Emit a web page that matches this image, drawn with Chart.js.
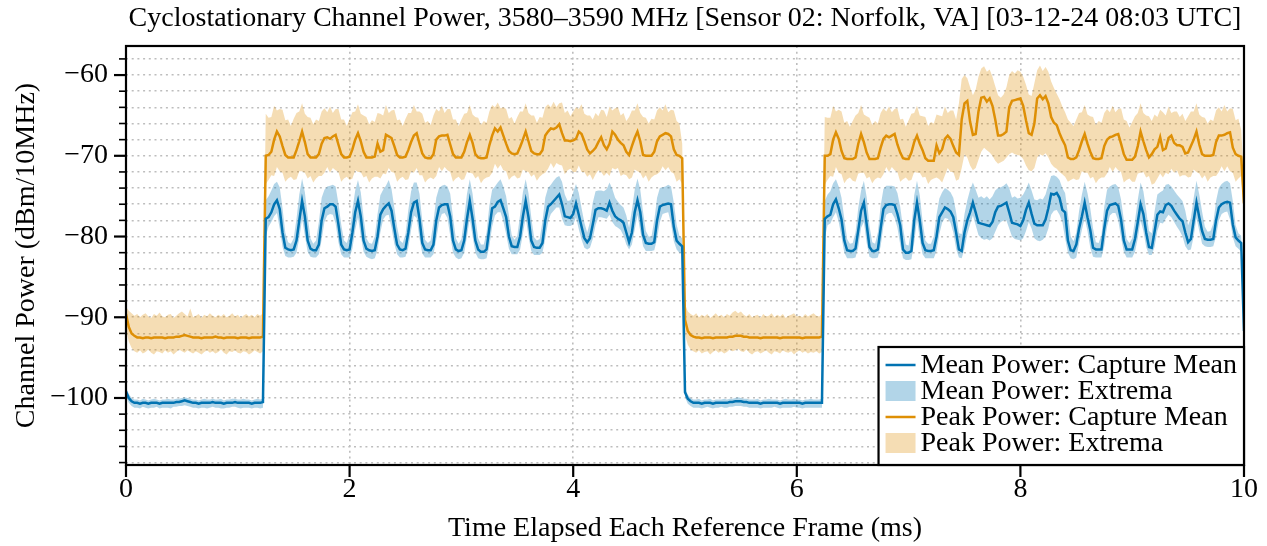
<!DOCTYPE html>
<html lang="en">
<head>
<meta charset="UTF-8">
<title>Cyclostationary Channel Power</title>
<script src="https://cdn.jsdelivr.net/npm/chart.js@4.4.1/dist/chart.umd.min.js"></script>
<style>
  html, body { margin: 0; padding: 0; background: #fff; }
  #wrap { width: 1267px; height: 546px; }
</style>
</head>
<body>
<div id="wrap"><canvas id="powerChart" width="1267" height="546"></canvas></div>
<script>
// samples are 25 us apart, frame of 10 ms -> 401 points per series
const sampleStepMs = 0.025;

const meanPowerMean = [
  -99.2, -100.0, -100.4, -100.6, -100.6, -100.7, -100.6, -100.6, -100.7, -100.6,
  -100.6, -100.6, -100.7, -100.6, -100.6, -100.6, -100.6, -100.6, -100.5, -100.5,
  -100.4, -100.3, -100.4, -100.5, -100.6, -100.6, -100.7, -100.6, -100.6, -100.6,
  -100.6, -100.5, -100.6, -100.6, -100.6, -100.7, -100.6, -100.6, -100.6, -100.5,
  -100.6, -100.6, -100.6, -100.6, -100.6, -100.7, -100.6, -100.6, -100.6, -100.5,
  -77.8, -77.6, -77.0, -76.0, -75.5, -76.6, -79.5, -81.4, -81.6, -81.7,
  -81.6, -80.5, -78.0, -75.6, -77.5, -80.5, -81.5, -81.7, -81.7, -81.0,
  -78.0, -76.5, -76.3, -76.0, -76.0, -76.3, -78.5, -81.0, -81.6, -81.7,
  -81.6, -79.5, -77.0, -75.6, -77.5, -80.5, -81.5, -81.7, -81.8, -81.7,
  -80.0, -77.3, -76.6, -76.2, -75.9, -76.8, -79.0, -81.0, -81.6, -81.7,
  -81.5, -79.5, -77.0, -75.8, -75.6, -77.8, -80.8, -81.6, -81.7, -81.7,
  -81.0, -78.0, -76.4, -76.1, -76.0, -76.0, -77.5, -80.5, -81.6, -81.8,
  -81.7, -80.5, -77.8, -75.6, -77.8, -80.5, -81.6, -81.9, -81.9, -81.6,
  -79.0, -76.5, -76.3, -75.7, -75.5, -76.5, -77.6, -80.0, -81.2, -81.3,
  -81.3, -80.0, -77.5, -75.6, -77.6, -80.5, -81.3, -81.4, -81.4, -80.8,
  -78.0, -76.3, -76.0, -75.6, -75.2, -74.8, -76.0, -77.5, -77.6, -77.7,
  -77.2, -75.9, -77.3, -78.8, -80.2, -80.7, -80.2, -78.5, -76.7, -76.5,
  -76.5, -76.6, -76.8, -75.8, -76.8, -77.5, -77.8, -78.0, -78.3, -79.5,
  -80.7, -79.5, -77.0, -75.5, -77.0, -79.8, -80.8, -80.9, -80.9, -80.7,
  -78.0, -76.3, -76.1, -76.0, -75.9, -76.0, -78.8, -80.5, -80.9, -81.2,
  -99.3, -100.1, -100.4, -100.6, -100.6, -100.6, -100.7, -100.6, -100.6, -100.6,
  -100.7, -100.6, -100.6, -100.6, -100.6, -100.6, -100.5, -100.5, -100.4, -100.4,
  -100.4, -100.5, -100.5, -100.6, -100.6, -100.6, -100.6, -100.7, -100.6, -100.6,
  -100.6, -100.6, -100.6, -100.6, -100.7, -100.6, -100.6, -100.6, -100.6, -100.6,
  -100.6, -100.6, -100.7, -100.6, -100.6, -100.6, -100.6, -100.6, -100.6, -100.6,
  -77.8, -77.5, -77.3, -76.0, -75.4, -76.5, -77.9, -80.5, -81.7, -81.8,
  -81.8, -81.5, -79.2, -76.8, -75.8, -78.5, -81.3, -81.8, -81.8, -81.6,
  -79.0, -76.6, -76.1, -76.0, -76.0, -76.1, -77.2, -78.6, -81.6, -82.0,
  -82.0, -81.8, -78.0, -75.8, -78.0, -80.8, -81.7, -81.8, -81.8, -81.7,
  -80.0, -77.6, -77.0, -76.4, -76.6, -76.9, -77.6, -79.5, -81.6, -81.8,
  -79.5, -78.0, -77.0, -75.8, -77.0, -78.3, -78.4, -78.5, -78.6, -78.7,
  -78.2, -77.0, -76.3, -76.2, -76.0, -75.8, -77.0, -78.3, -78.4, -78.5,
  -78.7, -78.0, -76.7, -75.8, -77.2, -78.4, -78.6, -78.6, -78.6, -77.9,
  -76.5, -74.7, -74.8, -74.6, -75.2, -76.7, -77.0, -80.5, -81.7, -81.8,
  -81.0, -79.0, -77.5, -75.8, -77.6, -79.2, -81.4, -81.6, -81.6, -81.6,
  -79.0, -76.8, -76.1, -76.0, -75.9, -76.2, -77.9, -80.5, -81.6, -81.6,
  -81.6, -80.3, -78.2, -76.0, -77.2, -79.5, -81.3, -81.4, -79.4, -77.3,
  -76.9, -77.0, -76.1, -75.9, -76.2, -76.8, -77.3, -77.8, -78.1, -79.5,
  -80.7, -80.3, -78.0, -75.8, -77.6, -79.3, -80.3, -80.4, -80.4, -80.3,
  -78.0, -76.4, -76.0, -75.8, -75.7, -75.8, -78.5, -80.1, -80.5, -80.8,
  -91.7
];

const meanPowerMax = [
  -98.7, -99.5, -100.0, -100.2, -100.2, -100.3, -100.1, -100.2, -100.3, -100.2,
  -100.1, -100.2, -100.3, -100.2, -100.2, -100.1, -100.2, -100.2, -100.1, -100.1,
  -100.0, -99.9, -100.0, -100.1, -100.2, -100.2, -100.3, -100.2, -100.1, -100.2,
  -100.2, -100.1, -100.2, -100.2, -100.1, -100.3, -100.2, -100.2, -100.1, -100.1,
  -100.2, -100.2, -100.1, -100.2, -100.2, -100.3, -100.2, -100.1, -100.2, -100.1,
  -75.5, -75.0, -74.3, -73.5, -73.2, -73.9, -76.5, -79.5, -80.7, -80.9,
  -80.2, -77.8, -74.8, -72.8, -74.5, -77.5, -80.2, -80.9, -80.5, -78.2,
  -75.2, -74.2, -73.8, -73.7, -73.6, -73.8, -75.9, -78.5, -80.5, -80.8,
  -79.7, -76.7, -74.3, -73.0, -74.5, -77.6, -80.2, -80.8, -80.9, -80.0,
  -77.2, -74.9, -74.2, -73.7, -73.0, -74.1, -76.4, -78.8, -80.5, -80.8,
  -79.7, -76.7, -74.4, -73.3, -73.3, -74.7, -78.0, -80.4, -80.8, -80.5,
  -78.2, -75.2, -74.0, -73.7, -73.6, -73.8, -74.7, -77.6, -80.2, -80.9,
  -80.3, -77.7, -74.7, -72.9, -74.7, -77.7, -80.2, -81.0, -81.0, -79.5,
  -76.2, -74.2, -73.8, -73.3, -72.9, -73.8, -75.0, -77.4, -79.8, -80.4,
  -79.9, -77.3, -74.5, -72.9, -74.6, -77.6, -80.1, -80.5, -80.3, -78.1,
  -75.2, -74.0, -73.6, -73.1, -72.7, -72.5, -73.2, -74.8, -75.6, -75.5,
  -74.5, -73.5, -74.6, -76.5, -78.3, -79.5, -78.2, -75.8, -74.4, -74.3,
  -74.3, -74.4, -74.1, -73.3, -74.1, -75.2, -75.7, -76.1, -76.4, -77.4,
  -78.9, -76.7, -74.2, -72.8, -74.2, -77.0, -79.3, -80.0, -80.0, -78.0,
  -75.2, -74.0, -73.9, -73.8, -73.6, -73.8, -75.8, -78.5, -79.9, -80.2,
  -98.8, -99.6, -100.0, -100.2, -100.2, -100.1, -100.3, -100.2, -100.2, -100.1,
  -100.3, -100.2, -100.2, -100.2, -100.1, -100.2, -100.1, -100.1, -100.0, -99.9,
  -100.0, -100.1, -100.1, -100.2, -100.2, -100.2, -100.1, -100.3, -100.2, -100.2,
  -100.1, -100.2, -100.2, -100.2, -100.3, -100.2, -100.1, -100.2, -100.2, -100.1,
  -100.2, -100.2, -100.3, -100.2, -100.2, -100.1, -100.2, -100.2, -100.2, -100.1,
  -75.6, -74.8, -74.4, -73.4, -72.9, -73.8, -75.2, -77.8, -80.3, -80.9,
  -80.8, -79.5, -76.4, -74.3, -73.1, -75.1, -78.7, -80.7, -80.9, -79.5,
  -76.2, -74.1, -73.7, -73.7, -73.7, -73.8, -74.6, -76.3, -78.9, -81.0,
  -81.1, -79.0, -74.9, -73.1, -74.9, -78.1, -80.5, -80.9, -80.9, -80.0,
  -77.3, -75.3, -74.5, -74.0, -74.2, -74.5, -75.2, -77.0, -79.6, -79.7,
  -77.2, -75.5, -74.2, -73.3, -74.2, -75.2, -75.0, -75.3, -75.0, -75.4,
  -75.0, -74.3, -74.0, -73.9, -73.7, -73.4, -74.0, -75.2, -75.0, -75.3,
  -75.2, -74.8, -74.1, -73.3, -74.3, -75.4, -75.5, -75.3, -75.4, -74.8,
  -73.6, -72.5, -72.4, -72.6, -73.0, -74.0, -74.6, -77.2, -80.0, -80.6,
  -79.5, -76.8, -74.8, -73.2, -74.6, -76.5, -79.0, -80.7, -80.8, -79.8,
  -76.3, -74.2, -73.8, -73.6, -73.5, -73.9, -75.4, -77.9, -80.3, -80.8,
  -80.2, -78.0, -75.4, -73.3, -74.4, -76.7, -79.3, -79.6, -76.9, -74.8,
  -74.5, -74.3, -73.6, -73.5, -73.8, -74.3, -74.8, -75.2, -75.6, -76.8,
  -78.6, -77.7, -75.2, -73.1, -74.8, -76.9, -78.8, -79.4, -79.3, -78.4,
  -75.6, -74.0, -73.5, -73.2, -73.1, -73.4, -75.6, -78.6, -79.6, -79.9,
  -90.0
];

const meanPowerMin = [
  -99.8, -100.6, -101.0, -101.2, -101.2, -101.3, -101.1, -101.2, -101.3, -101.2,
  -101.2, -101.1, -101.3, -101.2, -101.2, -101.2, -101.3, -101.1, -101.1, -101.0,
  -101.0, -100.9, -101.0, -101.1, -101.2, -101.2, -101.3, -101.2, -101.2, -101.3,
  -101.2, -101.1, -101.2, -101.2, -101.3, -101.3, -101.2, -101.2, -101.1, -101.1,
  -101.2, -101.3, -101.2, -101.2, -101.2, -101.3, -101.2, -101.2, -101.3, -101.2,
  -80.0, -78.8, -78.2, -77.5, -77.1, -79.0, -81.3, -82.4, -82.6, -82.6,
  -82.5, -82.0, -80.2, -77.8, -79.9, -81.9, -82.5, -82.6, -82.6, -82.2,
  -80.4, -78.2, -77.4, -77.2, -77.3, -78.4, -80.7, -82.2, -82.6, -82.6,
  -82.6, -81.5, -79.2, -77.6, -79.9, -81.9, -82.5, -82.7, -82.8, -82.7,
  -81.7, -79.5, -77.9, -77.4, -77.3, -78.9, -80.9, -82.2, -82.6, -82.6,
  -82.5, -81.4, -79.2, -77.4, -77.7, -80.2, -82.1, -82.6, -82.6, -82.6,
  -82.2, -80.4, -78.2, -77.2, -77.1, -77.7, -79.9, -82.0, -82.6, -82.8,
  -82.7, -82.0, -80.0, -77.7, -80.0, -82.0, -82.7, -82.8, -82.8, -82.7,
  -81.2, -78.8, -77.4, -77.0, -77.0, -78.1, -79.7, -81.5, -82.2, -82.2,
  -82.2, -81.6, -79.7, -77.6, -80.0, -81.8, -82.3, -82.3, -82.3, -82.0,
  -80.3, -78.2, -77.2, -76.8, -76.4, -76.4, -77.8, -78.6, -78.7, -78.7,
  -78.5, -77.6, -79.1, -80.4, -81.4, -81.6, -81.4, -80.3, -78.6, -77.6,
  -77.6, -77.7, -77.8, -77.3, -78.2, -78.7, -78.9, -79.2, -79.9, -81.0,
  -81.6, -81.0, -79.2, -77.3, -79.3, -81.2, -81.8, -81.8, -81.8, -81.7,
  -80.3, -78.2, -77.2, -77.1, -77.0, -78.4, -80.6, -81.6, -82.0, -82.1,
  -99.9, -100.7, -101.0, -101.2, -101.2, -101.2, -101.3, -101.2, -101.1, -101.2,
  -101.3, -101.2, -101.2, -101.1, -101.2, -101.2, -101.1, -101.1, -101.0, -101.0,
  -101.0, -101.1, -101.1, -101.2, -101.2, -101.2, -101.2, -101.3, -101.2, -101.2,
  -101.2, -101.2, -101.1, -101.2, -101.3, -101.2, -101.2, -101.2, -101.2, -101.1,
  -101.2, -101.2, -101.3, -101.2, -101.2, -101.2, -101.2, -101.2, -101.2, -101.2,
  -80.2, -78.6, -78.4, -77.6, -77.0, -78.2, -80.1, -82.0, -82.7, -82.7,
  -82.7, -82.6, -81.3, -78.9, -78.2, -80.8, -82.5, -82.7, -82.7, -82.6,
  -81.2, -78.7, -77.3, -77.1, -77.1, -77.7, -78.9, -81.0, -82.7, -82.9,
  -82.9, -82.8, -80.8, -77.9, -80.3, -82.2, -82.7, -82.7, -82.7, -82.7,
  -81.8, -79.7, -78.3, -77.7, -77.8, -78.3, -79.5, -81.5, -82.6, -82.7,
  -81.5, -79.7, -78.5, -77.4, -78.6, -79.8, -80.2, -80.4, -80.3, -80.5,
  -80.2, -79.4, -78.6, -78.2, -78.0, -78.0, -79.0, -80.0, -80.3, -80.4,
  -80.5, -80.2, -79.3, -78.2, -79.0, -80.2, -80.5, -80.6, -80.4, -80.0,
  -79.0, -77.3, -76.8, -76.7, -77.3, -78.2, -80.2, -82.0, -82.7, -82.8,
  -82.6, -80.8, -79.2, -77.7, -79.3, -81.4, -82.5, -82.6, -82.6, -82.6,
  -81.2, -78.8, -77.4, -77.1, -77.1, -78.0, -80.1, -81.9, -82.6, -82.6,
  -82.6, -81.9, -80.2, -78.0, -79.3, -81.3, -82.3, -82.3, -81.3, -79.3,
  -78.3, -78.4, -77.8, -77.3, -77.6, -78.2, -78.8, -79.3, -80.0, -81.2,
  -81.7, -81.6, -80.0, -77.7, -79.3, -80.9, -81.2, -81.3, -81.3, -81.2,
  -80.0, -78.0, -77.2, -77.0, -76.9, -77.9, -80.1, -81.2, -81.5, -81.9,
  -92.5
];

const peakPowerMean = [
  -89.6, -91.2, -92.0, -92.3, -92.5, -92.5, -92.6, -92.5, -92.5, -92.6,
  -92.5, -92.5, -92.5, -92.5, -92.6, -92.5, -92.5, -92.5, -92.4, -92.4,
  -92.3, -92.2, -92.3, -92.4, -92.5, -92.5, -92.5, -92.6, -92.5, -92.5,
  -92.5, -92.5, -92.4, -92.5, -92.5, -92.6, -92.5, -92.5, -92.5, -92.5,
  -92.6, -92.5, -92.5, -92.5, -92.6, -92.5, -92.5, -92.5, -92.5, -92.4,
  -70.0, -69.9, -69.5, -68.0, -67.0, -67.6, -68.8, -69.9, -70.2, -70.2,
  -70.2, -69.3, -68.2, -67.0, -68.3, -69.8, -70.2, -70.2, -70.2, -69.8,
  -68.5, -67.8, -67.7, -67.9, -67.6, -67.4, -68.6, -69.8, -70.2, -70.2,
  -70.1, -69.2, -68.0, -67.2, -68.2, -69.5, -70.2, -70.2, -70.2, -70.1,
  -68.5, -69.5, -69.3, -67.4, -67.6, -67.8, -68.8, -69.9, -70.2, -70.2,
  -70.1, -69.3, -68.3, -67.5, -67.2, -68.5, -69.7, -70.2, -70.3, -70.3,
  -69.8, -68.0, -67.6, -67.5, -67.5, -67.4, -68.6, -69.8, -70.2, -70.2,
  -70.2, -69.5, -68.3, -67.4, -68.4, -69.8, -70.2, -70.3, -70.3, -70.2,
  -68.7, -67.5, -66.6, -67.0, -66.5, -67.5, -68.5, -69.4, -69.7, -69.8,
  -69.7, -68.9, -68.0, -67.0, -68.2, -69.4, -69.7, -69.8, -69.8, -69.3,
  -67.5, -67.0, -66.6, -66.7, -66.5, -66.1, -67.2, -68.1, -68.1, -68.2,
  -68.1, -67.9, -67.0, -67.3, -68.2, -69.2, -69.7, -69.4, -69.0, -68.3,
  -67.7, -68.7, -69.2, -68.5, -67.0, -67.4, -68.0, -68.4, -68.7, -69.5,
  -69.9, -68.8, -67.8, -67.0, -68.2, -69.9, -70.0, -70.0, -70.0, -69.5,
  -68.2, -67.6, -67.4, -67.2, -67.3, -67.6, -69.2, -69.9, -70.0, -70.3,
  -90.3, -91.7, -92.2, -92.4, -92.5, -92.5, -92.6, -92.5, -92.5, -92.5,
  -92.6, -92.5, -92.5, -92.5, -92.5, -92.5, -92.4, -92.4, -92.3, -92.3,
  -92.3, -92.4, -92.4, -92.5, -92.5, -92.5, -92.5, -92.6, -92.5, -92.5,
  -92.5, -92.5, -92.5, -92.5, -92.6, -92.5, -92.5, -92.5, -92.5, -92.5,
  -92.5, -92.5, -92.6, -92.5, -92.5, -92.5, -92.5, -92.5, -92.5, -92.4,
  -70.0, -70.0, -69.8, -68.0, -67.1, -67.9, -69.4, -70.3, -70.4, -70.4,
  -70.4, -70.2, -68.5, -67.3, -68.3, -69.6, -70.4, -70.4, -70.4, -70.3,
  -69.0, -67.9, -67.5, -67.7, -67.5, -67.3, -68.6, -69.6, -70.3, -70.4,
  -70.4, -69.6, -68.3, -67.5, -68.5, -69.3, -70.3, -70.6, -70.6, -70.6,
  -68.7, -69.7, -69.2, -67.9, -67.5, -67.9, -68.8, -69.6, -69.9, -65.5,
  -63.5, -63.2, -65.8, -67.4, -67.3, -64.5, -62.8, -62.7, -63.3, -62.9,
  -63.8, -65.5, -67.5, -67.5, -67.3, -67.0, -64.0, -63.2, -63.1, -63.0,
  -62.9, -63.8, -65.6, -67.2, -67.4, -66.0, -62.9, -62.5, -63.0, -62.6,
  -63.5, -65.2, -65.9, -66.2, -67.2, -68.0, -68.7, -70.2, -70.4, -70.4,
  -70.2, -69.3, -68.2, -67.3, -68.5, -69.5, -70.3, -70.4, -70.4, -70.3,
  -68.8, -68.0, -67.7, -67.6, -67.4, -67.3, -68.5, -69.8, -70.5, -70.5,
  -70.5, -70.1, -68.8, -67.0, -68.2, -69.3, -70.2, -69.8, -69.2, -68.9,
  -67.7, -69.3, -69.1, -67.8, -67.5, -68.4, -68.7, -68.7, -68.9, -69.7,
  -69.6, -68.8, -68.0, -67.0, -68.6, -69.8, -70.0, -70.0, -70.0, -69.9,
  -68.3, -67.5, -67.5, -67.4, -67.2, -67.1, -69.0, -69.8, -70.0, -70.1,
  -75.9
];

const peakPowerMax = [
  -88.7, -89.2, -89.5, -89.8, -89.6, -90.0, -89.7, -89.5, -89.9, -90.1,
  -89.6, -89.8, -89.4, -89.9, -90.0, -89.7, -89.6, -90.1, -89.8, -89.5,
  -89.3, -89.6, -89.9, -88.9, -90.0, -89.8, -89.6, -90.1, -89.7, -89.9,
  -89.5, -89.8, -90.0, -89.7, -89.9, -89.6, -90.0, -89.8, -89.5, -89.9,
  -89.7, -90.1, -89.8, -89.6, -89.9, -89.7, -90.0, -89.6, -89.8, -89.5,
  -64.8, -65.3, -65.2, -63.8, -64.4, -64.2, -64.3, -65.6, -65.5, -66.3,
  -65.4, -64.7, -64.5, -63.5, -64.8, -65.2, -65.3, -66.1, -65.5, -65.7,
  -64.5, -64.1, -64.6, -63.9, -64.7, -64.2, -64.2, -65.5, -65.5, -66.3,
  -65.4, -64.6, -64.5, -63.6, -64.8, -65.0, -65.2, -66.1, -65.6, -65.8,
  -64.7, -64.8, -65.0, -63.7, -64.7, -64.4, -64.3, -65.6, -65.5, -66.3,
  -65.4, -64.7, -64.7, -63.7, -64.5, -64.5, -64.8, -65.9, -65.7, -66.2,
  -65.0, -64.2, -64.5, -63.8, -64.7, -64.2, -64.2, -65.5, -65.5, -66.3,
  -65.5, -64.8, -64.7, -63.7, -64.9, -65.2, -65.3, -66.2, -65.7, -65.9,
  -64.5, -63.7, -64.0, -63.4, -64.1, -64.0, -64.2, -65.4, -65.2, -66.0,
  -65.2, -64.5, -64.5, -63.5, -64.7, -65.0, -65.0, -65.9, -65.2, -65.3,
  -64.0, -63.6, -64.0, -63.3, -64.0, -63.5, -63.4, -64.7, -64.4, -65.1,
  -64.5, -64.0, -64.2, -63.6, -64.8, -65.0, -65.0, -65.5, -64.7, -65.1,
  -64.3, -64.4, -65.2, -63.9, -64.4, -64.1, -64.0, -65.0, -64.7, -65.7,
  -65.2, -64.4, -64.4, -63.5, -64.7, -65.2, -65.3, -66.0, -65.4, -65.5,
  -64.4, -64.0, -64.4, -63.6, -64.6, -64.3, -64.4, -65.7, -66.0, -68.5,
  -88.4, -89.3, -89.6, -89.8, -89.5, -90.0, -89.7, -89.9, -89.6, -90.1,
  -89.8, -89.5, -89.9, -89.7, -90.0, -89.6, -89.8, -89.4, -89.2, -89.5,
  -89.3, -89.7, -89.9, -89.6, -90.0, -89.8, -89.7, -90.1, -89.6, -89.9,
  -89.8, -89.5, -90.0, -89.7, -89.9, -89.6, -90.1, -89.8, -89.7, -89.5,
  -89.9, -89.8, -90.0, -89.6, -89.9, -89.7, -89.5, -89.8, -89.9, -89.6,
  -65.2, -65.3, -65.3, -63.8, -64.5, -64.3, -64.5, -65.9, -65.7, -66.4,
  -65.7, -65.0, -64.7, -63.7, -64.9, -65.1, -65.3, -66.2, -65.7, -66.0,
  -64.7, -64.1, -64.5, -63.9, -64.6, -64.2, -64.1, -65.5, -65.4, -66.4,
  -65.6, -64.8, -64.7, -63.8, -65.0, -65.1, -65.2, -66.3, -65.8, -66.0,
  -64.9, -65.0, -65.1, -63.9, -64.7, -64.4, -64.4, -65.5, -63.5, -60.5,
  -60.0, -60.4, -61.5, -62.5, -61.8, -60.2, -59.2, -58.9, -59.6, -59.3,
  -60.2, -61.4, -62.5, -62.8, -62.4, -61.5, -60.0, -59.5, -59.8, -59.4,
  -59.6, -60.2, -61.2, -62.4, -62.6, -61.0, -59.4, -58.8, -59.5, -59.0,
  -59.6, -60.8, -61.6, -62.3, -63.0, -63.9, -64.6, -65.5, -65.9, -66.3,
  -65.5, -64.7, -64.6, -63.7, -64.9, -65.1, -65.2, -66.2, -65.7, -65.9,
  -64.7, -64.2, -64.6, -63.8, -64.6, -64.2, -64.1, -65.5, -65.7, -66.5,
  -65.8, -65.1, -64.7, -63.5, -64.7, -65.0, -65.1, -65.7, -64.9, -65.2,
  -64.3, -64.6, -65.0, -63.9, -64.7, -64.5, -64.5, -65.2, -64.8, -65.7,
  -65.1, -64.5, -64.5, -63.5, -64.9, -65.2, -65.3, -66.0, -65.5, -65.7,
  -64.4, -64.0, -64.5, -63.7, -64.5, -64.1, -64.2, -65.6, -65.4, -66.8,
  -73.0
];

const peakPowerMin = [
  -91.5, -93.0, -93.8, -94.2, -94.4, -94.1, -94.5, -94.3, -94.0, -94.4,
  -94.6, -94.2, -94.3, -94.5, -94.1, -94.4, -94.2, -94.6, -94.3, -94.0,
  -94.2, -94.4, -94.1, -94.3, -94.5, -94.2, -94.4, -94.6, -94.3, -94.1,
  -94.4, -94.2, -94.5, -94.3, -94.0, -94.4, -94.6, -94.2, -94.3, -94.1,
  -94.4, -94.5, -94.2, -94.3, -94.6, -94.4, -94.1, -94.3, -94.5, -94.2,
  -73.5, -73.0, -72.4, -72.5, -71.4, -71.9, -72.1, -73.2, -72.8, -72.6,
  -73.0, -72.9, -71.9, -71.9, -72.1, -72.8, -72.5, -73.3, -72.8, -72.5,
  -72.5, -72.1, -71.4, -72.1, -71.5, -71.8, -72.0, -73.2, -72.8, -72.6,
  -73.0, -72.8, -71.8, -72.0, -72.0, -72.7, -72.5, -73.3, -72.8, -72.6,
  -72.6, -72.8, -72.2, -72.3, -71.5, -72.0, -72.1, -73.2, -72.8, -72.6,
  -73.0, -72.9, -71.9, -72.1, -71.5, -72.4, -72.4, -73.3, -72.9, -72.7,
  -72.9, -72.5, -71.4, -71.9, -71.4, -71.8, -72.0, -73.2, -72.8, -72.6,
  -73.0, -72.9, -72.0, -72.1, -72.2, -72.8, -72.5, -73.4, -72.9, -72.7,
  -72.6, -72.1, -71.0, -71.6, -71.1, -71.8, -71.9, -73.0, -72.6, -72.4,
  -72.8, -72.7, -71.7, -71.9, -72.0, -72.6, -72.3, -73.1, -72.6, -72.3,
  -72.1, -71.6, -70.9, -71.5, -70.9, -71.1, -71.2, -72.3, -71.8, -71.6,
  -72.0, -72.0, -71.2, -72.0, -72.0, -72.6, -72.3, -73.0, -72.3, -71.8,
  -72.0, -72.5, -72.1, -72.5, -71.5, -71.7, -71.5, -72.5, -72.3, -72.4,
  -72.9, -72.7, -71.7, -71.9, -72.1, -72.8, -72.4, -73.2, -72.7, -72.4,
  -72.3, -72.0, -71.3, -71.8, -71.4, -72.0, -72.2, -73.2, -72.9, -73.5,
  -92.2, -93.4, -94.0, -94.2, -94.4, -94.1, -94.5, -94.3, -94.2, -94.6,
  -94.3, -94.1, -94.4, -94.2, -94.5, -94.3, -94.0, -94.2, -94.1, -93.9,
  -94.2, -94.3, -94.0, -94.4, -94.6, -94.3, -94.2, -94.5, -94.3, -94.1,
  -94.4, -94.6, -94.2, -94.3, -94.5, -94.1, -94.3, -94.4, -94.2, -94.6,
  -94.3, -94.1, -94.4, -94.2, -94.5, -94.3, -94.4, -94.2, -94.5, -94.3,
  -73.6, -73.0, -72.5, -72.6, -71.4, -72.1, -72.3, -73.4, -72.9, -72.7,
  -73.1, -73.2, -72.2, -72.1, -72.1, -72.8, -72.6, -73.4, -72.9, -72.7,
  -72.8, -72.3, -71.4, -72.0, -71.4, -71.8, -72.0, -73.2, -72.9, -72.7,
  -73.1, -73.0, -72.0, -72.1, -72.1, -72.7, -72.6, -73.5, -73.0, -72.8,
  -72.7, -72.9, -73.3, -72.4, -71.5, -72.0, -72.0, -73.1, -72.9, -71.5,
  -69.8, -70.2, -71.2, -71.8, -71.5, -70.5, -69.5, -69.0, -69.3, -69.6,
  -70.0, -70.6, -71.0, -70.8, -70.6, -70.2, -69.8, -69.6, -69.8, -69.9,
  -70.0, -70.4, -71.2, -71.8, -71.9, -71.5, -70.2, -69.8, -70.0, -69.7,
  -70.2, -71.0, -71.4, -71.6, -72.0, -72.3, -72.6, -73.2, -73.0, -72.8,
  -73.0, -72.9, -71.9, -72.1, -72.1, -72.8, -72.6, -73.4, -72.9, -72.7,
  -72.7, -72.2, -71.4, -72.0, -71.4, -71.8, -72.0, -73.3, -73.0, -72.8,
  -73.2, -73.2, -72.2, -72.1, -72.0, -72.7, -72.5, -73.6, -73.4, -72.8,
  -72.2, -72.7, -72.1, -72.3, -71.6, -72.1, -71.8, -72.6, -72.4, -72.4,
  -72.7, -72.6, -71.7, -72.0, -72.2, -72.8, -72.4, -73.2, -72.7, -72.5,
  -72.5, -72.0, -71.3, -71.9, -71.3, -71.9, -72.1, -73.2, -72.8, -72.5,
  -77.5
];

const xTickValues = [0, 2, 4, 6, 8, 10];
const yRange = [-108.3, -56.4];

const serif = "'Liberation Serif', 'Times New Roman', Times, serif";
const blue = '#0173B2';
const orange = '#DE8F05';

const elapsedMs = meanPowerMean.map((_, i) => Math.round(i * sampleStepMs * 1000) / 1000);
const asPoints = ys => ys.map((y, i) => ({ x: elapsedMs[i], y }));

const minusSign = v => (v < 0 ? '\u2212' + Math.abs(v) : String(v));

// tick marks and the black axes box; minor y ticks every 2 dB
const axesFrame = {
  id: 'axesFrame',
  afterDraw(chart) {
    const { ctx, chartArea: a, scales: { x, y } } = chart;
    ctx.save();
    ctx.strokeStyle = '#000';
    y.ticks.forEach(t => {
      const major = Math.abs(t.value % 10) < 1e-6;
      const py = y.getPixelForValue(t.value);
      ctx.lineWidth = major ? 2.2 : 1.6;
      ctx.beginPath();
      ctx.moveTo(a.left, py);
      ctx.lineTo(a.left - (major ? 12 : 7), py);
      ctx.stroke();
    });
    x.ticks.forEach(t => {
      const px = x.getPixelForValue(t.value);
      ctx.lineWidth = 2.2;
      ctx.beginPath();
      ctx.moveTo(px, a.bottom);
      ctx.lineTo(px, a.bottom + 12);
      ctx.stroke();
    });
    ctx.lineWidth = 2.2;
    ctx.strokeRect(a.left, a.top, a.right - a.left, a.bottom - a.top);
    ctx.restore();
  }
};

// boxed legend sitting in the lower right corner of the plot
const cornerLegend = {
  id: 'cornerLegend',
  afterDraw(chart, args, opts) {
    const { ctx, chartArea: a } = chart;
    const items = opts.order.map(i => chart.data.datasets[i]);
    ctx.save();
    ctx.font = `${opts.fontSize}px ${serif}`;
    const textW = Math.max(...items.map(d => ctx.measureText(d.label).width));
    const w = 42 + textW + 7;
    const h = 118;
    const left = a.right - w;
    const top = a.bottom - h;
    ctx.fillStyle = '#fff';
    ctx.fillRect(left, top, w, h);
    ctx.lineWidth = 2.2;
    ctx.strokeStyle = '#000';
    ctx.strokeRect(left, top, w, h);
    ctx.textBaseline = 'middle';
    ctx.textAlign = 'left';
    items.forEach((d, i) => {
      const cy = top + 18 + i * 26;
      if (d.fill === false) {
        ctx.strokeStyle = d.borderColor;
        ctx.lineWidth = 2.5;
        ctx.beginPath();
        ctx.moveTo(left + 7, cy);
        ctx.lineTo(left + 37, cy);
        ctx.stroke();
      } else {
        ctx.fillStyle = d.backgroundColor;
        ctx.fillRect(left + 7, cy - 10, 30, 20);
      }
      ctx.fillStyle = '#000';
      ctx.fillText(d.label, left + 42, cy + 1);
    });
    ctx.restore();
  }
};

const band = (label, data, fill, color) => ({
  label, data, fill,
  backgroundColor: color,
  borderColor: 'transparent',
  borderWidth: 0,
  pointRadius: 0,
  order: 2
});

const trace = (label, data, color) => ({
  label, data,
  fill: false,
  borderColor: color,
  borderWidth: 2.5,
  pointRadius: 0,
  tension: 0,
  order: 1
});

new Chart(document.getElementById('powerChart'), {
  type: 'line',
  data: {
    datasets: [
      band('Mean Power: Extrema (min)', asPoints(meanPowerMin), false, 'transparent'),
      band('Mean Power: Extrema', asPoints(meanPowerMax), 0, 'rgba(1, 115, 178, 0.3)'),
      band('Peak Power: Extrema (min)', asPoints(peakPowerMin), false, 'transparent'),
      band('Peak Power: Extrema', asPoints(peakPowerMax), 2, 'rgba(222, 143, 5, 0.3)'),
      trace('Mean Power: Capture Mean', asPoints(meanPowerMean), blue),
      trace('Peak Power: Capture Mean', asPoints(peakPowerMean), orange)
    ]
  },
  options: {
    responsive: false,
    animation: false,
    devicePixelRatio: 1,
    events: [],
    layout: { padding: { left: 0, right: 23, top: 0, bottom: 0 } },
    plugins: {
      legend: { display: false },
      tooltip: { enabled: false },
      title: {
        display: true,
        fullSize: false,
        text: 'Cyclostationary Channel Power, 3580\u20133590 MHz [Sensor 02: Norfolk, VA] [03-12-24 08:03 UTC]',
        color: '#000',
        font: { family: serif, size: 28, weight: 'normal', lineHeight: 1.2 },
        padding: { top: 2, bottom: 10.4 }
      },
      cornerLegend: { order: [4, 1, 5, 3], fontSize: 28 }
    },
    scales: {
      x: {
        type: 'linear',
        min: 0,
        max: 10,
        afterBuildTicks: s => { s.ticks = xTickValues.map(v => ({ value: v })); },
        afterFit: s => { s.height = 81; },
        ticks: {
          autoSkip: false,
          maxRotation: 0,
          padding: 8,
          color: '#000',
          font: { family: serif, size: 28 },
          callback: v => minusSign(v)
        },
        grid: { color: '#bdbdbd', lineWidth: 1.6, drawTicks: false },
        border: { display: false, dash: [2, 3.7] },
        title: {
          display: true,
          text: 'Time Elapsed Each Reference Frame (ms)',
          color: '#000',
          font: { family: serif, size: 28 },
          padding: { top: 0, bottom: 1 }
        }
      },
      y: {
        type: 'linear',
        min: yRange[0],
        max: yRange[1],
        afterBuildTicks: s => {
          const t = [];
          for (let v = -108; v <= -58; v += 2) t.push({ value: v });
          s.ticks = t;
        },
        afterFit: s => { s.width = 126; },
        ticks: {
          autoSkip: false,
          padding: 18,
          color: '#000',
          font: { family: serif, size: 28 },
          callback: v => (Math.abs(v % 10) < 1e-6 ? minusSign(v) : '')
        },
        grid: { color: '#bdbdbd', lineWidth: 1.6, drawTicks: false },
        border: { display: false, dash: [2, 3.7] },
        title: {
          display: true,
          text: 'Channel Power (dBm/10MHz)',
          color: '#000',
          font: { family: serif, size: 28 },
          padding: { top: 10, bottom: 0 }
        }
      }
    }
  },
  plugins: [axesFrame, cornerLegend]
});
</script>
</body>
</html>
